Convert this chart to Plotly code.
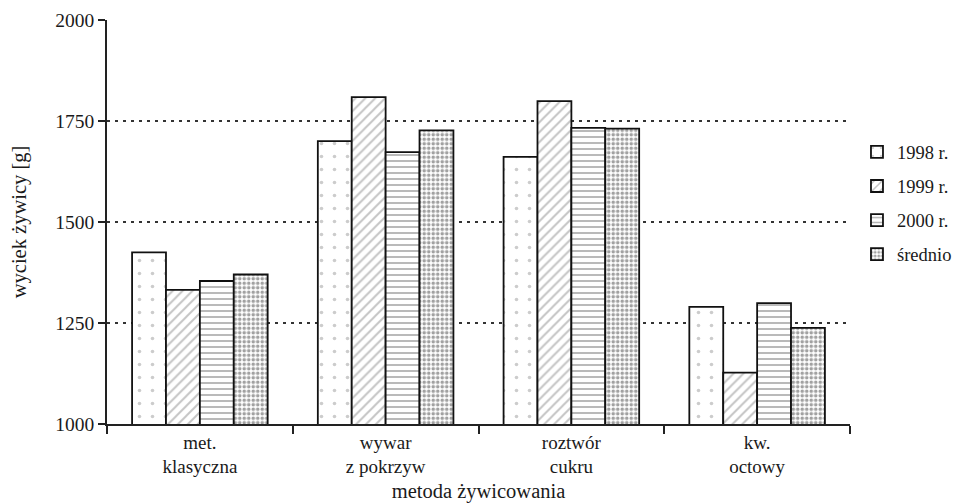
import plotly.graph_objects as go

categories = ["met.<br>klasyczna", "wywar<br>z pokrzyw", "roztwór<br>cukru", "kw.<br>octowy"]
series_names = ["1998 r.", "1999 r.", "2000 r.", "średnio"]
v1998 = [1425, 1700, 1661, 1290]
v1999 = [1332, 1809, 1799, 1127]
v2000 = [1354, 1673, 1733, 1299]
vsredn = [1370, 1727, 1731, 1238]
y_ticks = [1000, 1250, 1500, 1750, 2000]

FONT = "Liberation Serif"
patterns = [
    dict(shape=".", size=13, solidity=0.06, fgcolor="#999999", bgcolor="white", fillmode="overlay"),
    dict(shape="/", size=7, solidity=0.28, fgcolor="#8a8a8a", bgcolor="white", fillmode="overlay"),
    dict(shape="-", size=6, solidity=0.3, fgcolor="#666666", bgcolor="white", fillmode="overlay"),
    dict(shape=".", size=4.5, solidity=0.5, fgcolor="#444444", bgcolor="white", fillmode="overlay"),
]

fig = go.Figure()
for i, (name, vals) in enumerate(zip(series_names, [v1998, v1999, v2000, vsredn])):
    fig.add_trace(go.Bar(
        x=categories, y=vals, name=name,
        legendgroup=name,
        marker=dict(color="white", pattern=patterns[i], line=dict(color="#111", width=1.8)),
    ))

fig.update_layout(
    width=965, height=503,
    margin=dict(l=99, r=123, t=12, b=87, autoexpand=False),
    paper_bgcolor="white", plot_bgcolor="white",
    barmode="group", bargap=0.27, bargroupgap=0,
    font=dict(family=FONT, size=19, color="#1a1a1a"),
    showlegend=True,
    legend=dict(x=1.0094, xanchor="left", y=0.546, yanchor="middle",
                font=dict(family=FONT, size=18.5, color="#1a1a1a"),
                traceorder="grouped", tracegroupgap=7, bgcolor="rgba(0,0,0,0)"),
    xaxis=dict(
        type="category", tickson="boundaries", ticks="outside", ticklen=8, tickwidth=1.5,
        tickcolor="#222", showline=True, linecolor="#222", linewidth=1.5,
        showgrid=False, automargin=False,
        title=dict(text="metoda żywicowania", standoff=7, font=dict(family=FONT, size=20.5)),
        tickfont=dict(family=FONT, size=19),
    ),
    yaxis=dict(
        range=[1000, 2000], tickvals=y_ticks, ticks="outside", ticklen=7, tickwidth=1.5,
        tickcolor="#222", showline=True, linecolor="#222", linewidth=1.5,
        showgrid=True, gridcolor="#333", gridwidth=2, griddash="3px,5px",
        zeroline=False, automargin=False,
        title=dict(text="wyciek żywicy [g]", standoff=29, font=dict(family=FONT, size=20.5)),
        tickfont=dict(family=FONT, size=19.5),
    ),
)

fig.write_html("out.html")
